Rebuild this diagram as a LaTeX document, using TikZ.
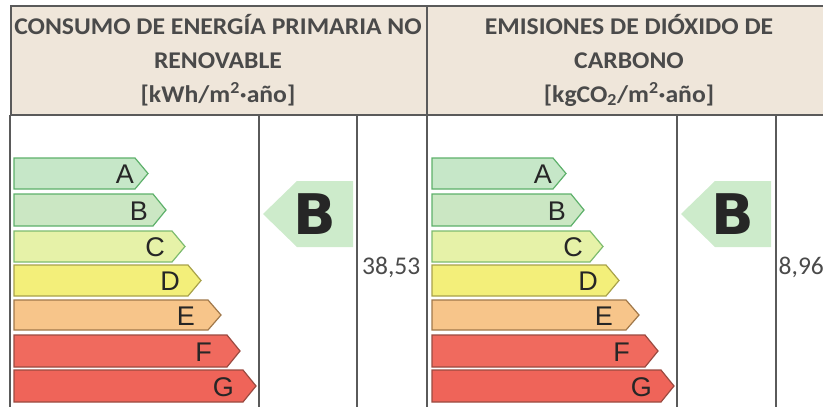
\documentclass[tikz,border=0pt]{standalone}
\usepackage{fontspec}
\setmainfont{Carlito}
\newfontfamily\hdrfont[FakeStretch=1.07]{Carlito}
\newfontfamily\barfont{Liberation Sans}
\newfontfamily\markfont{DejaVu Sans}

\definecolor{hdrFill}{HTML}{EFE6DA}
\definecolor{ruleGray}{HTML}{5A5A5A}
\definecolor{txtGray}{HTML}{4A4A4A}
\definecolor{markFill}{HTML}{CDEBCB}
\definecolor{clsA}{HTML}{C6E7C8}
\definecolor{clsB}{HTML}{CBE7C3}
\definecolor{clsC}{HTML}{E6F2A8}
\definecolor{clsD}{HTML}{F3EF7A}
\definecolor{clsE}{HTML}{F7C58A}
\definecolor{clsF}{HTML}{F06A5E}
\definecolor{clsG}{HTML}{EF6459}
\definecolor{edgeA}{HTML}{5DB06A}
\definecolor{edgeB}{HTML}{5DB06A}
\definecolor{edgeC}{HTML}{7DBB6E}
\definecolor{edgeD}{HTML}{A8A24A}
\definecolor{edgeE}{HTML}{A0784A}
\definecolor{edgeF}{HTML}{9A4A40}
\definecolor{edgeG}{HTML}{9A4A40}

\tikzset{
  rule/.style={draw=ruleGray,line width=1.6pt},
  bar/.style={fill=cls#1,draw=edge#1,line width=1.2pt},
  barletter/.style={inner sep=0pt,text=black!85,font=\barfont\fontsize{27}{27}\selectfont},
  hdr/.style={align=center,text=txtGray,font=\hdrfont\bfseries\fontsize{24}{34}\selectfont},
  val/.style={inner sep=0pt,text=txtGray,font=\fontsize{25.5}{26}\selectfont},
  markletter/.style={inner sep=0pt,text=black!85,font=\markfont\bfseries\fontsize{56}{56}\selectfont}
}

\begin{document}
\begin{tikzpicture}[x=1pt,y=-1pt]
 \useasboundingbox (0,0) rectangle (823,407);
 % header
 \draw[rule,fill=hdrFill] (11,6) rectangle (835,115);
 \node[hdr] (hdrE) at (218,60) {CONSUMO DE ENERGÍA PRIMARIA NO\\RENOVABLE\\{[}kWh/m\textsuperscript{2}·año{]}};
 \node[hdr] (hdrC) at (629,60) {EMISIONES DE DIÓXIDO DE\\CARBONO\\{[}kgCO\textsubscript{2}/m\textsuperscript{2}·año{]}};
 % table rules
 \draw[rule] (10,115) -- (10,412);
 \draw[rule] (259,115) -- (259,412);
 \draw[rule] (357,115) -- (357,412);
 \draw[rule] (427,6) -- (427,412);
 \draw[rule] (677,115) -- (677,412);
 \draw[rule] (776,115) -- (776,412);
 % scales
 \foreach \p/\dx in {l/0,r/418}{
  \foreach \k/\ya/\yb/\tip/\tx in {A/158/189/148/134,B/194/226/166/148,C/231/262/185/165,D/265/296/201/180,E/300/330/221/195,F/335/367/240/212,G/370/402/256/234}{
   \draw[bar=\k] (14+\dx,\ya) -- (\tip-13+\dx,\ya) -- (\tip+\dx,{(\ya+\yb)/2}) -- (\tip-13+\dx,\yb) -- (14+\dx,\yb) -- cycle;
   \node[barletter,anchor=east] (\p\k) at (\tx+\dx,{(\ya+\yb)/2+1}) {\k};
  }
 }
 % rating marks
 \fill[markFill] (263,214) -- (297,181) -- (353,181) -- (353,247) -- (297,247) -- cycle;
 \node[markletter] (mkE) at (315,214) {B};
 \fill[markFill] (681,214) -- (715,181) -- (771,181) -- (771,247) -- (715,247) -- cycle;
 \node[markletter] (mkC) at (733,214) {B};
 % values
 \node[val,anchor=west] (valE) at (362,267) {38,53};
 \node[val,anchor=west] (valC) at (778.5,267) {8,96};
\end{tikzpicture}
\end{document}
